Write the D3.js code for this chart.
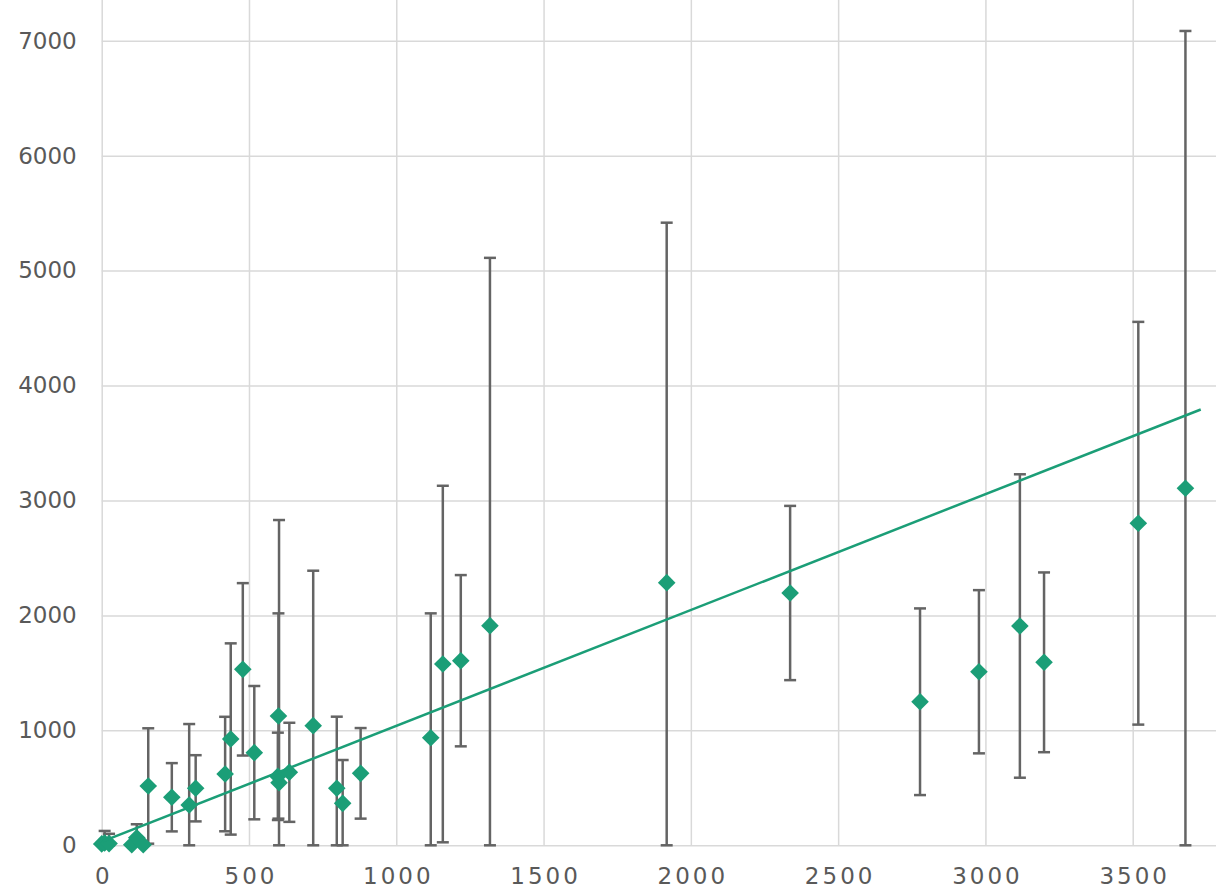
<!DOCTYPE html>
<html>
<head>
<meta charset="utf-8">
<script src="https://cdnjs.cloudflare.com/ajax/libs/d3/7.8.5/d3.min.js"></script>
<style>
  html, body { margin: 0; padding: 0; background: #fff; overflow: hidden; }
  svg { display: block; }
  .tick text { font-family: "DejaVu Sans", Verdana, sans-serif; font-size: 23px; fill: #595959; }
  .tick line { stroke: #d9d9d9; stroke-width: 1.5px; }
</style>
</head>
<body>
<svg id="chart"></svg>
<script>
"use strict";

// values
const xValues = [0, 10, 25, 102, 119, 141, 158, 238, 297, 319, 419, 438, 479, 518, 600, 598, 602, 637, 718, 798, 818, 879,
                 1117, 1158, 1219, 1318, 1918, 2337, 2778, 2978, 3117, 3199, 3519, 3679];
const yValues = [12, 20, 15, 5, 65, 5, 516, 418, 350, 496, 620, 925, 1531, 806, 1125, 600, 545, 635, 1041, 496, 365, 626,
                 936, 1577, 1606, 1911, 2285, 2195, 1249, 1510, 1908, 1592, 2802, 3107];
const yErrors = [0, 105, 85, 0, 118, 0, 502, 297, 705, 288, 498, 832, 750, 580, 893, 380, 2285, 431, 1348, 623, 377, 394,
                 1082, 1551, 745, 3200, 3132, 758, 812, 710, 1320, 782, 1752, 3978];

const xTicks = [0, 500, 1000, 1500, 2000, 2500, 3000, 3500, 4000];
const yTicks = [0, 1000, 2000, 3000, 4000, 5000, 6000, 7000, 8000];

// linear trendline (slope, intercept) and the x range it spans
const trendCoef = [1.008, 31];
const trendRange = [5, 3731];

let width = 1216, height = 891;
let svg = d3.select('svg#chart').attr('width', width).attr('height', height);

let plot = { left: 101.7, bottom: 845.3, right: 1280, top: -74.2 };

let x = d3.scaleLinear().domain([0, 4000]).range([plot.left, plot.right]);
let y = d3.scaleLinear().domain([0, 8000]).range([plot.bottom, plot.top]);

let colour = '#1b9e77';
let barColour = '#646464';

/* gridlines + labels (labels past the window edge are not shown) */
let yAxis = d3.axisLeft(y)
  .tickValues(yTicks)
  .tickFormat(d => y(d) < 10 ? '' : d3.format('d')(d))
  .tickSize(-(plot.right - plot.left))
  .tickPadding(25);
svg.append('g')
   .attr('transform', `translate(${plot.left},0)`)
   .call(yAxis)
   .call(g => g.select('.domain').remove());

let xAxis = d3.axisBottom(x)
  .tickValues(xTicks)
  .tickFormat(d => x(d) > width - 30 ? '' : d3.format('d')(d))
  .tickSize(-(plot.bottom - plot.top))
  .tickPadding(22.5);
svg.append('g')
   .attr('transform', `translate(0,${plot.bottom})`)
   .call(xAxis)
   .call(g => g.select('.domain').remove())
   .call(g => g.selectAll('text').style('letter-spacing', '3px').attr('dx', '1.5px'));

let points = xValues.map((d, i) => ({ x: d, y: yValues[i], e: yErrors[i] }));

/* error bars, clipped at the axis */
let bars = svg.append('g')
  .attr('stroke', barColour)
  .attr('stroke-width', 2.5)
  .selectAll('g')
  .data(points.filter(d => d.e > 0))
  .enter()
  .append('g');

let lo = d => Math.max(0, d.y - d.e);
let hi = d => d.y + d.e;
let capHalf = 6;

bars.append('line')
    .attr('x1', d => x(d.x)).attr('x2', d => x(d.x))
    .attr('y1', d => y(lo(d))).attr('y2', d => y(hi(d)));
bars.append('line')
    .attr('x1', d => x(d.x) - capHalf).attr('x2', d => x(d.x) + capHalf)
    .attr('y1', d => y(hi(d))).attr('y2', d => y(hi(d)));
bars.append('line')
    .attr('x1', d => x(d.x) - capHalf).attr('x2', d => x(d.x) + capHalf)
    .attr('y1', d => y(lo(d))).attr('y2', d => y(lo(d)));

/* diamond markers */
let r = 8.8;
svg.append('g')
   .selectAll('path')
   .data(points)
   .enter()
   .append('path')
   .attr('d', d => {
     let cx = x(d.x), cy = y(d.y);
     return `M${cx},${cy - r}L${cx + r},${cy}L${cx},${cy + r}L${cx - r},${cy}Z`;
   })
   .attr('fill', colour);

/* trendline */
let trend = trendRange.map(v => [v, trendCoef[0] * v + trendCoef[1]]);
svg.append('path')
   .datum(trend)
   .attr('d', d3.line().x(d => x(d[0])).y(d => y(d[1])))
   .attr('fill', 'none')
   .attr('stroke', colour)
   .attr('stroke-width', 2.5);
</script>
</body>
</html>
